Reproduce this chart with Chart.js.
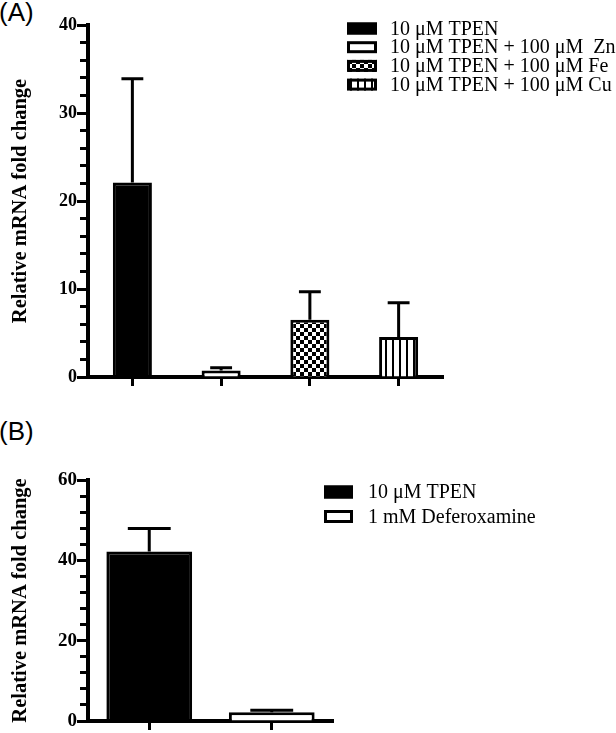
<!DOCTYPE html>
<html>
<head>
<meta charset="utf-8">
<script src="https://cdn.jsdelivr.net/npm/chart.js@4.4.0/dist/chart.umd.min.js"></script>
<style>
    body { margin: 0; background: #fff; width: 616px; height: 733px; position: relative; overflow: hidden; }
    .panel { position: absolute; font-family: "Liberation Sans", Arial, sans-serif; font-size: 26px; line-height: 26px; color: #000; }
    canvas { position: absolute; left: 0; }
</style>
</head>
<body>
<div class="panel" style="left:-1px; top:-1px;">(A)</div>
<div class="panel" style="left:-1px; top:418px;">(B)</div>
<canvas id="chartA" width="616" height="400" style="top:0"></canvas>
<canvas id="chartB" width="616" height="333" style="top:400px"></canvas>
<script>
"use strict";

// Panel A - TPEN med metalltillskott
const catsA = ['10 \u03bcM TPEN', '10 \u03bcM TPEN + 100 \u03bcM  Zn', '10 \u03bcM TPEN + 100 \u03bcM Fe', '10 \u03bcM TPEN + 100 \u03bcM Cu'];
const valsA = [22.1, 0.75, 6.5, 4.55];
const errA = [11.8, 0.3, 3.2, 3.9];
const ticksA = [0, 10, 20, 30, 40];
const minorA = 2;

// Panel B - TPEN mot deferoxamin
const catsB = ['10 \u03bcM TPEN', '1 mM Deferoxamine'];
const valsB = [42.2, 2.2];
const errB = [5.7, 0.5];
const ticksB = [0, 20, 40, 60];
const minorB = 4;

const serif = '"Liberation Serif", "Times New Roman", serif';

// mönster för staplarna
function checkerPattern() {
    const c = document.createElement('canvas');
    c.width = 8; c.height = 8;
    const g = c.getContext('2d');
    g.fillStyle = '#fff'; g.fillRect(0, 0, 8, 8);
    g.fillStyle = '#000'; g.fillRect(0, 0, 4, 4); g.fillRect(4, 4, 4, 4);
    return g.createPattern(c, 'repeat');
}
function stripePattern() {
    const c = document.createElement('canvas');
    c.width = 7; c.height = 4;
    const g = c.getContext('2d');
    g.fillStyle = '#fff'; g.fillRect(0, 0, 7, 4);
    g.fillStyle = '#000'; g.fillRect(0, 0, 2, 4);
    return g.createPattern(c, 'repeat');
}

const fillsA = ['#000', '#fff', checkerPattern(), stripePattern()];
const fillsB = ['#000', '#fff'];

// felstaplar (bara uppåt) + kortare mellanstreck på y-axeln
const extras = {
    id: 'extras',
    afterDraw(chart) {
        const ds = chart.data.datasets[0];
        const meta = chart.getDatasetMeta(0);
        const y = chart.scales.y;
        const ctx = chart.ctx;
        ctx.save();
        ctx.strokeStyle = '#000';
        ctx.lineWidth = 3;
        ctx.beginPath();
        meta.data.forEach((bar, i) => {
            const top = y.getPixelForValue(ds.data[i] + ds.errors[i]);
            const half = bar.width * ds.capRatio / 2;
            ctx.moveTo(bar.x, bar.y);
            ctx.lineTo(bar.x, top);
            ctx.moveTo(bar.x - half, top);
            ctx.lineTo(bar.x + half, top);
        });
        ctx.stroke();

        // gör mellanstrecken kortare genom att täcka deras yttre del
        const x0 = chart.chartArea.left - 12;
        ctx.fillStyle = '#fff';
        y.ticks.forEach((t) => {
            if (ds.majorTicks.indexOf(t.value) >= 0) return;
            const py = y.getPixelForValue(t.value);
            ctx.fillRect(x0, py - 3, 4, 6);
        });
        ctx.restore();
    }
};

// egen legend med rutor, placerad fritt
const boxLegend = {
    id: 'boxLegend',
    afterDraw(chart, args, opts) {
        const ctx = chart.ctx;
        const ds = chart.data.datasets[0];
        ctx.save();
        ctx.font = opts.fontSize + 'px ' + serif;
        ctx.textBaseline = 'middle';
        chart.data.labels.forEach((label, i) => {
            const cy = opts.y + i * opts.step;
            ctx.fillStyle = ds.backgroundColor[i];
            ctx.fillRect(opts.x, cy - opts.h / 2, opts.w, opts.h);
            ctx.strokeStyle = '#000';
            ctx.lineWidth = 3;
            ctx.strokeRect(opts.x + 1.5, cy - opts.h / 2 + 1.5, opts.w - 3, opts.h - 3);
            ctx.fillStyle = '#000';
            ctx.fillText(label, opts.textX, cy + 1);
        });
        ctx.restore();
    }
};

function makeChart(id, cats, vals, errs, fills, majors, minorStep, opt) {
    return new Chart(document.getElementById(id), {
        type: 'bar',
        data: {
            labels: cats,
            datasets: [{
                data: vals,
                errors: errs,
                majorTicks: majors,
                capRatio: opt.capRatio,
                backgroundColor: fills,
                borderColor: '#000',
                borderWidth: 3,
                categoryPercentage: 1,
                barPercentage: opt.barPct
            }]
        },
        options: {
            responsive: false,
            animation: false,
            events: [],
            layout: { padding: opt.padding },
            scales: {
                x: {
                    grid: { drawOnChartArea: false, offset: false, tickLength: 9, tickWidth: 3, tickColor: '#000' },
                    border: { color: '#000', width: 4 },
                    ticks: { display: false },
                    afterFit: (s) => { s.height = 12; }
                },
                y: {
                    min: majors[0],
                    max: majors[majors.length - 1],
                    grid: { drawOnChartArea: false, tickLength: 11, tickWidth: 3, tickColor: '#000' },
                    border: { color: '#000', width: 4 },
                    ticks: {
                        stepSize: minorStep,
                        autoSkip: false,
                        padding: 0,
                        color: '#000',
                        font: { family: serif, weight: 'bold', size: opt.tickSize },
                        callback: (v) => (majors.indexOf(v) >= 0 ? String(v) : '')
                    },
                    title: {
                        display: true,
                        text: 'Relative mRNA fold change',
                        color: '#000',
                        font: { family: serif, weight: 'bold', size: 20.5 },
                        padding: { top: 8, bottom: 0 }
                    },
                    afterFit: (s) => { s.width = 88; }
                }
            },
            plugins: {
                legend: { display: false },
                tooltip: { enabled: false },
                boxLegend: opt.legend
            }
        },
        plugins: [extras, boxLegend]
    });
}

makeChart('chartA', catsA, valsA, errA, fillsA, ticksA, minorA, {
    tickSize: 18,
    barPct: 0.44, capRatio: 0.56,
    padding: { top: 25, right: 173, bottom: 11, left: 0 },
    legend: { x: 347, y: 28.5, step: 18.7, w: 30, h: 12, textX: 390, fontSize: 20 }
});

makeChart('chartB', catsB, valsB, errB, fillsB, ticksB, minorB, {
    tickSize: 19,
    barPct: 0.7, capRatio: 0.5,
    padding: { top: 80, right: 283, bottom: 0, left: 0 },
    legend: { x: 324, y: 92, step: 24.5, w: 29, h: 13, textX: 368, fontSize: 20 }
});
</script>
</body>
</html>
